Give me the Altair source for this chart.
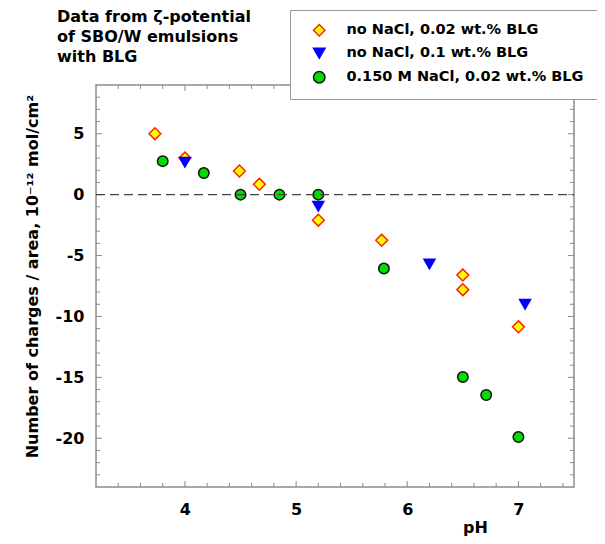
import altair as alt
import pandas as pd

# ---------------- data ----------------
series_names = ["no NaCl, 0.02 wt.% BLG", "no NaCl, 0.1 wt.% BLG", "0.150 M NaCl, 0.02 wt.% BLG"]

diamond_ph = [3.73, 4.0, 4.49, 4.67, 5.2, 5.77, 6.5, 6.5, 7.0]
diamond_val = [5.0, 3.0, 1.94, 0.85, -2.1, -3.75, -6.6, -7.8, -10.85]

tri_ph = [4.0, 5.2, 6.2, 7.06]
tri_val = [2.65, -0.96, -5.7, -9.0]

circ_ph = [3.8, 4.17, 4.5, 4.85, 5.2, 5.79, 6.5, 6.71, 7.0]
circ_val = [2.75, 1.77, 0.0, 0.0, 0.0, -6.07, -14.97, -16.45, -19.9]

x_major = [4, 5, 6, 7]
x_minor = [3.4, 3.6, 3.8, 4.2, 4.4, 4.6, 4.8, 5.2, 5.4, 5.6, 5.8,
           6.2, 6.4, 6.6, 6.8, 7.2, 7.4]
y_major = [-20, -15, -10, -5, 0, 5]
y_minor = [-23, -22, -21, -19, -18, -17, -16, -14, -13, -12, -11, -9, -8,
           -7, -6, -4, -3, -2, -1, 1, 2, 3, 4, 6, 7, 8]
zero_line = [0]

title_lines = ["Data from ζ-potential", "of SBO/W emulsions", "with BLG"]
x_title = "pH"
y_title = "Number of charges / area, 10⁻¹² mol/cm²"

# ---------------- setup ----------------
W, H = 478, 402
FONT = "DejaVu Sans, Liberation Sans, Arial, sans-serif"
FRAME = "#8c8c8c"

df = pd.concat([
    pd.DataFrame({"pH": diamond_ph, "val": diamond_val, "series": series_names[0]}),
    pd.DataFrame({"pH": tri_ph, "val": tri_val, "series": series_names[1]}),
    pd.DataFrame({"pH": circ_ph, "val": circ_val, "series": series_names[2]}),
], ignore_index=True)

xs = alt.Scale(domain=[3.2, 7.5], nice=False, zero=False)
ys = alt.Scale(domain=[-24, 9], nice=False, zero=False)

shape_scale = alt.Scale(domain=series_names, range=["diamond", "triangle-down", "circle"])
fill_scale = alt.Scale(domain=series_names, range=["#FFFF00", "#0000FF", "#00DD00"])
stroke_scale = alt.Scale(domain=series_names, range=["#FF2200", "#0000FF", "#111111"])

legend = alt.Legend(
    title=None, orient="none", legendX=194, legendY=-75, padding=13,
    strokeColor="#999999", fillColor="white", symbolOffset=9, labelOffset=20,
    rowPadding=6, labelFont=FONT, labelFontSize=14.5, labelFontWeight="bold",
    labelColor="black", symbolSize=130, symbolStrokeWidth=1.5, labelLimit=400,
)

xaxis = alt.Axis(
    values=x_major, labelExpr="toString(datum.value)", title=x_title, ticks=False,
    tickSize=0, domain=False, grid=False, labelFont=FONT, labelFontSize=16,
    labelFontWeight="bold", labelColor="black", labelPadding=14, titleFont=FONT,
    titleFontSize=16, titleFontWeight="bold", titleColor="black", titleX=379,
    titleY=45, titleAlign="center", titleBaseline="alphabetic",
)
yaxis = alt.Axis(
    values=y_major, labelExpr="toString(datum.value)", title=y_title, ticks=False,
    tickSize=0, domain=False, grid=False, labelFont=FONT, labelFontSize=16,
    labelFontWeight="bold", labelColor="black", labelPadding=12, titleFont=FONT,
    titleFontSize=16, titleFontWeight="bold", titleColor="black", titleX=-64,
    titleY=191, titleAngle=270, titleAlign="center", titleBaseline="middle",
)

base = alt.Chart(df)


def points(name, size):
    return base.transform_filter(alt.datum.series == name).mark_point(
        filled=True, size=size, strokeWidth=1.5, opacity=1
    ).encode(
        x=alt.X("pH:Q", scale=xs, axis=xaxis),
        y=alt.Y("val:Q", scale=ys, axis=yaxis),
        shape=alt.Shape("series:N", scale=shape_scale, legend=legend),
        fill=alt.Fill("series:N", scale=fill_scale, legend=legend),
        stroke=alt.Stroke("series:N", scale=stroke_scale, legend=legend),
    )


layers = []

# inward ticks on all four sides
for vals, ln in [(x_major, 6), (x_minor, 4)]:
    tdf = pd.DataFrame({"pH": vals})
    layers.append(alt.Chart(tdf).mark_rule(color=FRAME, strokeWidth=1).encode(
        x=alt.X("pH:Q", scale=xs, axis=xaxis), y=alt.value(H), y2=alt.value(H - ln)))
    layers.append(alt.Chart(tdf).mark_rule(color=FRAME, strokeWidth=1).encode(
        x=alt.X("pH:Q", scale=xs, axis=xaxis), y=alt.value(0), y2=alt.value(ln)))
for vals, ln in [(y_major, 6), (y_minor, 4)]:
    tdf = pd.DataFrame({"val": vals})
    layers.append(alt.Chart(tdf).mark_rule(color=FRAME, strokeWidth=1).encode(
        y=alt.Y("val:Q", scale=ys, axis=yaxis), x=alt.value(0), x2=alt.value(ln)))
    layers.append(alt.Chart(tdf).mark_rule(color=FRAME, strokeWidth=1).encode(
        y=alt.Y("val:Q", scale=ys, axis=yaxis), x=alt.value(W), x2=alt.value(W - ln)))

layers.append(points(series_names[0], 140))
layers.append(points(series_names[1], 120))
layers.append(points(series_names[2], 110))

zdf = pd.DataFrame({"val": zero_line})
layers.append(alt.Chart(zdf).mark_rule(color="#444444", strokeWidth=1.3, strokeDash=[9, 5]).encode(
    y=alt.Y("val:Q", scale=ys, axis=yaxis), x=alt.value(0), x2=alt.value(W)))

for i, line in enumerate(title_lines):
    layers.append(alt.Chart(pd.DataFrame({"t": [line]})).mark_text(
        align="left", baseline="middle", font=FONT, fontSize=16, fontWeight="bold", color="black"
    ).encode(x=alt.value(-39), y=alt.value(-68 + 20 * i), text="t:N"))

chart = alt.layer(*layers).properties(
    width=W, height=H,
    autosize=alt.AutoSizeParams(type="none"),
    padding={"left": 88, "top": 77, "right": 23, "bottom": 49},
).configure_view(stroke=FRAME, strokeWidth=1.5)

chart.save("out.html", embed_options={"renderer": "svg", "actions": False})
